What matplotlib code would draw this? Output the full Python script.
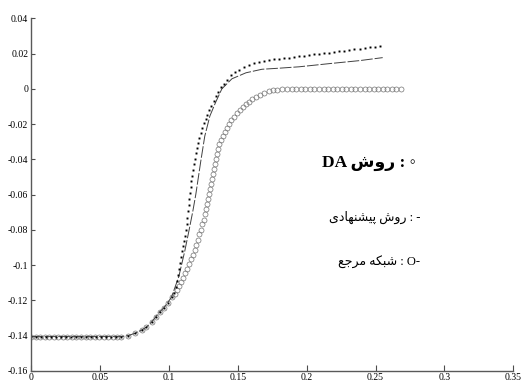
import matplotlib
matplotlib.use("Agg")
import matplotlib.pyplot as plt

# %% data

# DA method (dots)
da_x = [0, 0.0036, 0.0073, 0.0109, 0.0146, 0.0182, 0.0219, 0.0255, 0.0292, 0.0328,
        0.0365, 0.0401, 0.0437, 0.0474, 0.051, 0.0547, 0.0583, 0.062,
        0.0656, 0.0707, 0.0758, 0.0802, 0.0838, 0.0875, 0.0904, 0.0933, 0.0962, 0.0991, 0.102,
        0.1035, 0.105, 0.1057, 0.1064, 0.1072, 0.1079, 0.1086, 0.1093, 0.1101, 0.1108,
        0.1115, 0.1123, 0.113, 0.113, 0.1137, 0.1145, 0.1145, 0.1152, 0.1159, 0.1159,
        0.1166, 0.1174, 0.1181, 0.1188, 0.1196, 0.1203, 0.121, 0.1217, 0.1232, 0.1239,
        0.1254, 0.1268, 0.1276, 0.129, 0.1305, 0.1327, 0.1341, 0.1356, 0.1378, 0.14,
        0.1422, 0.1451, 0.148, 0.1509, 0.1546, 0.1582, 0.1618, 0.1655, 0.1691, 0.1728,
        0.1764, 0.1801, 0.1837, 0.1874, 0.191, 0.1946, 0.1983, 0.2019, 0.2056, 0.2092,
        0.2129, 0.2165, 0.2202, 0.2238, 0.2274, 0.2311, 0.2347, 0.2384, 0.242, 0.2457,
        0.2493, 0.253]
da_y = [-0.1405, -0.1405, -0.1405, -0.1405, -0.1405, -0.1405, -0.1405, -0.1405, -0.1405, -0.1405,
        -0.1405, -0.1405, -0.1405, -0.1405, -0.1405, -0.1405, -0.1405, -0.1405,
        -0.1405, -0.1399, -0.1385, -0.1368, -0.1351, -0.1322, -0.1294, -0.1265, -0.1243, -0.1214, -0.118,
        -0.1157, -0.1123, -0.1089, -0.1054, -0.102, -0.0986, -0.0952, -0.0918, -0.0889, -0.0861,
        -0.0832, -0.0798, -0.0764, -0.073, -0.0695, -0.0661, -0.0627, -0.0593, -0.0559, -0.0524,
        -0.0496, -0.0462, -0.0428, -0.0399, -0.0365, -0.0336, -0.0308, -0.0279, -0.0251, -0.0222,
        -0.0194, -0.0171, -0.0148, -0.012, -0.0097, -0.0068, -0.004, -0.0017, 0.0011, 0.0029,
        0.0051, 0.008, 0.0094, 0.0108, 0.0123, 0.0134, 0.0145, 0.0154, 0.016, 0.0165,
        0.0169, 0.0171, 0.0173, 0.0177, 0.018, 0.0184, 0.0188, 0.0191, 0.0195, 0.0198,
        0.0202, 0.0206, 0.0209, 0.0213, 0.0217, 0.022, 0.0224, 0.0227, 0.0231, 0.0235,
        0.0238, 0.0242]

# proposed method (line)
prop_x = [0, 0.0656, 0.0707, 0.0758, 0.0802, 0.0838, 0.0875, 0.0904, 0.0933, 0.0962, 0.0991, 0.102,
          0.1072, 0.1115, 0.1145, 0.1174, 0.1196, 0.1232, 0.1261, 0.1298, 0.1341, 0.1385,
          0.1458, 0.156, 0.1676, 0.18, 0.1946, 0.2165, 0.2384, 0.2552]
prop_y = [-0.1405, -0.1405, -0.1399, -0.1385, -0.1368, -0.1351, -0.1322, -0.1294, -0.1265, -0.1243, -0.1214, -0.118,
          -0.1066, -0.0923, -0.0809, -0.0695, -0.0598, -0.041, -0.0268, -0.0154, -0.0074, 0.0,
          0.0057, 0.0091, 0.0111, 0.0117, 0.0125, 0.0143, 0.016, 0.0177]

# reference network (circles)
ref_x = [0, 0.0033, 0.0066, 0.0099, 0.0132, 0.0165, 0.0198, 0.0231, 0.0264, 0.0297,
         0.033, 0.0363, 0.0396, 0.0429, 0.0462, 0.0495, 0.0528, 0.0561, 0.0594, 0.0627,
         0.0656, 0.0707, 0.0758, 0.0802, 0.0838, 0.0875, 0.0904, 0.0933, 0.0962, 0.0991, 0.102,
         0.1043, 0.1057, 0.1072, 0.1086, 0.1101, 0.1115, 0.113, 0.1145, 0.1159, 0.1174,
         0.1188, 0.1196, 0.121, 0.1217, 0.1232, 0.1239, 0.1254, 0.1261, 0.1268, 0.1276,
         0.1283, 0.129, 0.1298, 0.1305, 0.1312, 0.132, 0.1327, 0.1334, 0.1341, 0.1349,
         0.1356, 0.1363, 0.1378, 0.1392, 0.1407, 0.1422, 0.1436, 0.1451, 0.1473, 0.1495,
         0.1516, 0.1538, 0.156, 0.1582, 0.1604, 0.1633, 0.1662, 0.1691, 0.1728, 0.1757,
         0.1786, 0.1823, 0.1859,
         0.1892, 0.1925, 0.1958, 0.1991, 0.2024, 0.2057, 0.209, 0.2123, 0.2156, 0.2189,
         0.2222, 0.2255, 0.2288, 0.2321, 0.2354, 0.2387, 0.242, 0.2453, 0.2486, 0.2519,
         0.2552, 0.2585, 0.2618, 0.2651, 0.2684]
ref_y = [-0.1405, -0.1405, -0.1405, -0.1405, -0.1405, -0.1405, -0.1405, -0.1405, -0.1405, -0.1405,
         -0.1405, -0.1405, -0.1405, -0.1405, -0.1405, -0.1405, -0.1405, -0.1405, -0.1405, -0.1405,
         -0.1405, -0.1399, -0.1385, -0.1368, -0.1351, -0.1322, -0.1294, -0.1265, -0.1243, -0.1214, -0.118,
         -0.1163, -0.114, -0.1117, -0.1094, -0.1072, -0.1043, -0.102, -0.0992, -0.0963, -0.094,
         -0.0912, -0.0883, -0.0855, -0.0826, -0.0798, -0.0769, -0.0741, -0.0712, -0.0684, -0.0655,
         -0.0627, -0.0598, -0.057, -0.0541, -0.0513, -0.0484, -0.0456, -0.0428, -0.0399, -0.037,
         -0.0342, -0.0313, -0.0291, -0.0268, -0.0245, -0.0222, -0.02, -0.0177, -0.016, -0.0137,
         -0.012, -0.0103, -0.0088, -0.0074, -0.0057, -0.0046, -0.0034, -0.0023, -0.0014, -0.0009,
         -0.0005, -0.0002, 0.0,
         0, 0, 0, 0, 0, 0, 0, 0, 0, 0,
         0, 0, 0, 0, 0, 0, 0, 0, 0, 0,
         0, 0, 0, 0, 0]

xticks = [0, 0.05, 0.1, 0.15, 0.2, 0.25, 0.3, 0.35]
xtick_labels = ['0', '0.05', '0.1', '0.15', '0.2', '0.25', '0.3', '0.35']
yticks = [0.04, 0.02, 0, -0.02, -0.04, -0.06, -0.08, -0.1, -0.12, -0.14, -0.16]
ytick_labels = ['0.04', '0.02', '0', '-0.02', '-0.04', '-0.06', '-0.08', '-0.1', '-0.12', '-0.14', '-0.16']

legend_da = 'روش'
legend_prop = 'روش پیشنهادی'
legend_ref = 'شبکه مرجع'

# %% tiny arabic shaper (matplotlib has no text shaping / bidi)
FORMS = {
    'ا': ('\uFE8D', '\uFE8E', None, None),
    'ب': ('\uFE8F', '\uFE90', '\uFE91', '\uFE92'),
    'پ': ('\uFB56', '\uFB57', '\uFB58', '\uFB59'),
    'ج': ('\uFE9D', '\uFE9E', '\uFE9F', '\uFEA0'),
    'د': ('\uFEA9', '\uFEAA', None, None),
    'ر': ('\uFEAD', '\uFEAE', None, None),
    'ش': ('\uFEB5', '\uFEB6', '\uFEB7', '\uFEB8'),
    'ع': ('\uFEC9', '\uFECA', '\uFECB', '\uFECC'),
    'ک': ('\uFB8E', '\uFB8F', '\uFB90', '\uFB91'),
    'م': ('\uFEE1', '\uFEE2', '\uFEE3', '\uFEE4'),
    'ن': ('\uFEE5', '\uFEE6', '\uFEE7', '\uFEE8'),
    'ه': ('\uFEE9', '\uFEEA', '\uFEEB', '\uFEEC'),
    'و': ('\uFEED', '\uFEEE', None, None),
    'ی': ('\uFBFC', '\uFBFD', '\uFBFE', '\uFBFF'),
}


def shape_word(w):
    out = []
    for i, ch in enumerate(w):
        f = FORMS[ch]
        join_prev = i > 0 and FORMS[w[i - 1]][2] is not None
        join_next = i < len(w) - 1 and f[2] is not None
        if join_prev and join_next:
            out.append(f[3])
        elif join_prev:
            out.append(f[1])
        elif join_next:
            out.append(f[2])
        else:
            out.append(f[0])
    return ''.join(reversed(out))


def rtl(s):
    return ' '.join(shape_word(w) for w in reversed(s.split(' ')))


# %% plot
fig = plt.figure(figsize=(5.22, 3.86), dpi=100)
ax = fig.add_axes([0.0594, 0.0389, 0.924, 0.9137])

ax.plot(ref_x, ref_y, linestyle='none', marker='o', ms=3.6, mfc='none', mec='0.45', mew=0.5)
ax.plot(prop_x, prop_y, color='0.25', lw=0.7, linestyle=(0, (12, 2)))
ax.plot(da_x, da_y, linestyle='none', marker='s', ms=1.4, mfc='black', mec='black', mew=0)

ax.set_xlim(0, 0.35)
ax.set_ylim(-0.16, 0.04)
ax.set_xticks(xticks)
ax.set_xticklabels(xtick_labels)
ax.set_yticks(yticks)
ax.set_yticklabels(ytick_labels)

for s in ['top', 'right']:
    ax.spines[s].set_visible(False)
for s in ['left', 'bottom']:
    ax.spines[s].set_color('0.35')
    ax.spines[s].set_linewidth(1.0)

ax.tick_params(direction='in', colors='0.3', width=0.8, labelcolor='black',
               labelsize=7)
ax.tick_params(axis='x', length=4, pad=1.5)
ax.tick_params(axis='y', length=3, pad=2)
for lab in ax.get_xticklabels() + ax.get_yticklabels():
    lab.set_family('Liberation Serif')

fam = ['Liberation Serif', 'DejaVu Sans']
ax.text(0.2795, -0.0422, 'DA ' + rtl(legend_da) + ' : \u25e6', ha='right', va='center',
        fontsize=12.5, fontweight='bold', family=fam)
ax.text(0.2825, -0.0727, rtl(legend_prop) + ' : -', ha='right', va='center',
        fontsize=9, family=fam)
ax.text(0.2825, -0.0982, rtl(legend_ref) + ' : O-', ha='right', va='center',
        fontsize=9, family=fam)

fig.savefig('out.png', dpi=100)
